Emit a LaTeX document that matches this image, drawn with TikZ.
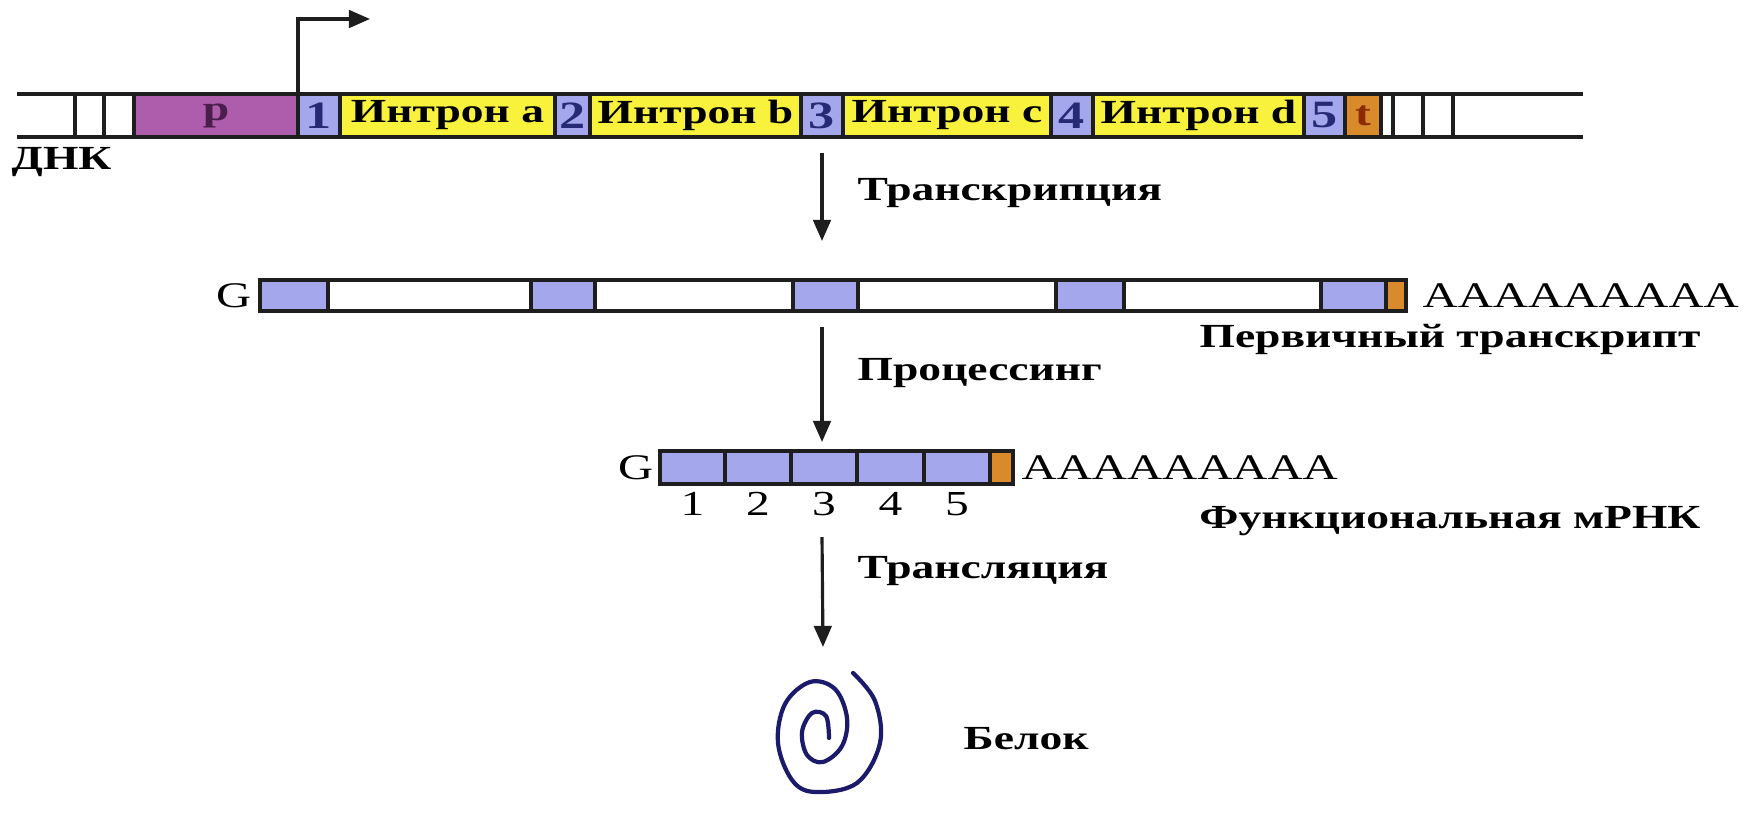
\documentclass[tikz,border=0pt]{standalone}
\usepackage{fontspec}
\setmainfont{Liberation Serif}[FakeStretch=1.35]
\usepackage{tikz}
\usetikzlibrary{arrows.meta,positioning}
\definecolor{ink}{HTML}{1E1E1E}
\definecolor{pur}{HTML}{AE5CAC}
\definecolor{purt}{HTML}{4A1E4A}
\definecolor{exn}{HTML}{A4A7EC}
\definecolor{exnt}{HTML}{262A75}
\definecolor{yel}{HTML}{F8F23C}
\definecolor{org}{HTML}{D98A2B}
\definecolor{orgt}{HTML}{8A2A00}
\definecolor{spir}{HTML}{1C1A6B}
\tikzset{seg/.style={draw=ink, line width=0.9pt, inner sep=0pt, outer sep=0pt, minimum height=0.43cm, anchor=west},
         ex/.style={seg, fill=exn, text=exnt, font=\bfseries\fontsize{11}{11}\selectfont},
         intr/.style={seg, fill=yel, font=\bfseries\fontsize{9.6}{10}\selectfont},
         rseg/.style={seg, minimum height=0.31cm},
         mseg/.style={seg, minimum height=0.33cm, fill=exn},
         captxt/.style={font=\fontsize{10.25}{11}\selectfont, inner sep=0pt},
         num/.style={font=\fontsize{10}{11}\selectfont, inner sep=0pt},
         lbl/.style={font=\bfseries\fontsize{9.6}{11}\selectfont, inner sep=0pt},
         arr/.style={-{Triangle[length=6pt, width=5pt]}, line width=0.9pt, ink},
         strand/.style={line width=0.9pt, ink},
         prot/.style={line width=1.2pt, spir, line cap=round}}

\begin{document}
\begin{tikzpicture}
\useasboundingbox (0,0) rectangle (17.56,-8.21);
\draw[strand] (0.17,-0.94) -- (15.83,-0.94);
\draw[strand] (0.17,-1.37) -- (15.83,-1.37);
\node[seg, minimum width=0.29cm] (w1) at (0.75,-1.155) {};
\node[seg, minimum width=0.30cm, right=0pt of w1] (w2) {};
\node[seg, fill=pur, text=purt, font=\bfseries\fontsize{10}{10}\selectfont, minimum width=1.64cm, right=0pt of w2] (p) {p};
\node[ex, minimum width=0.42cm, right=0pt of p] (e1) {1};
\node[intr, minimum width=2.15cm, right=0pt of e1] (ia) {Интрон a};
\node[ex, minimum width=0.35cm, right=0pt of ia] (e2) {2};
\node[intr, minimum width=2.11cm, right=0pt of e2] (ib) {Интрон b};
\node[ex, minimum width=0.42cm, right=0pt of ib] (e3) {3};
\node[intr, minimum width=2.08cm, right=0pt of e3] (ic) {Интрон c};
\node[ex, minimum width=0.42cm, right=0pt of ic] (e4) {4};
\node[intr, minimum width=2.11cm, right=0pt of e4] (id) {Интрон d};
\node[ex, minimum width=0.41cm, right=0pt of id] (e5) {5};
\node[seg, fill=org, text=orgt, font=\bfseries\fontsize{10}{10}\selectfont, minimum width=0.36cm, right=0pt of e5] (t) {t};
\node[seg, minimum width=0.12cm, right=0pt of t] (w3) {};
\node[seg, minimum width=0.30cm, right=0pt of w3] (w4) {};
\node[seg, minimum width=0.30cm, right=0pt of w4] (w5) {};
\node[lbl, anchor=west] (dna) at (0.11,-1.62) {ДНК};
\coordinate (tss) at (3.70,-0.19);
\draw[arr] (p.north east) |- (tss);

\node[rseg, fill=exn, minimum width=0.68cm] (r1) at (2.60,-2.955) {};
\node[rseg, minimum width=2.03cm, right=0pt of r1] (ra) {};
\node[rseg, fill=exn, minimum width=0.64cm, right=0pt of ra] (r2) {};
\node[rseg, minimum width=1.98cm, right=0pt of r2] (rb) {};
\node[rseg, fill=exn, minimum width=0.65cm, right=0pt of rb] (r3) {};
\node[rseg, minimum width=1.98cm, right=0pt of r3] (rc) {};
\node[rseg, fill=exn, minimum width=0.68cm, right=0pt of rc] (r4) {};
\node[rseg, minimum width=1.97cm, right=0pt of r4] (rd) {};
\node[rseg, fill=exn, minimum width=0.65cm, right=0pt of rd] (r5) {};
\node[rseg, fill=org, minimum width=0.20cm, right=0pt of r5] (rt) {};
\node[captxt, left=0.08cm of r1] (g1) {G};
\node[captxt, right=0.16cm of rt] (a1) {AAAAAAAAA};
\node[lbl] (pre) at (14.5,-3.39) {Первичный транскрипт};

\node[mseg, minimum width=0.65cm] (m1) at (6.60,-4.675) {};
\node[mseg, minimum width=0.66cm, right=0pt of m1] (m2) {};
\node[mseg, minimum width=0.66cm, right=0pt of m2] (m3) {};
\node[mseg, minimum width=0.67cm, right=0pt of m3] (m4) {};
\node[mseg, minimum width=0.66cm, right=0pt of m4] (m5) {};
\node[mseg, fill=org, minimum width=0.23cm, right=0pt of m5] (mt) {};
\node[captxt, left=0.06cm of m1] (g2) {G};
\node[captxt, right=0.08cm of mt] (a2) {AAAAAAAAA};
\node[num, below=0.08cm of m1] (n1) {1};
\node[num, below=0.08cm of m2] (n2) {2};
\node[num, below=0.08cm of m3] (n3) {3};
\node[num, below=0.08cm of m4] (n4) {4};
\node[num, below=0.08cm of m5] (n5) {5};
\node[lbl] (mrna) at (14.5,-5.21) {Функциональная мРНК};

\draw[prot] plot[smooth, tension=0.6] coordinates {(8.29,-7.38) (8.26,-7.16) (8.12,-7.13) (8.02,-7.32) (8.07,-7.55) (8.23,-7.62) (8.42,-7.46) (8.47,-7.18) (8.35,-6.89) (8.10,-6.82) (7.85,-7.04) (7.78,-7.43) (7.92,-7.80) (8.15,-7.92) (8.57,-7.83) (8.80,-7.43) (8.75,-7.01) (8.53,-6.73)};
\coordinate (prot) at (8.23,-6.72);
\node[lbl, anchor=west] (bel) at (9.63,-7.39) {Белок};

\draw[arr] ([yshift=-0.16cm]e3.south) -- ([yshift=0.39cm]e3.south |- r3.north);
\draw[arr] ([yshift=-0.16cm]e3.south |- r3.south) -- ([yshift=0.09cm]e3.south |- m3.north);
\draw[arr] ([yshift=-0.2cm]e3.south |- n3.south) -- ([yshift=0.25cm]prot);
\node[lbl, anchor=west] (tr1) at (8.57,-1.93) {Транскрипция};
\node[lbl, anchor=west] (tr2) at (8.57,-3.73) {Процессинг};
\node[lbl, anchor=west] (tr3) at (8.57,-5.71) {Трансляция};
\end{tikzpicture}
\end{document}
